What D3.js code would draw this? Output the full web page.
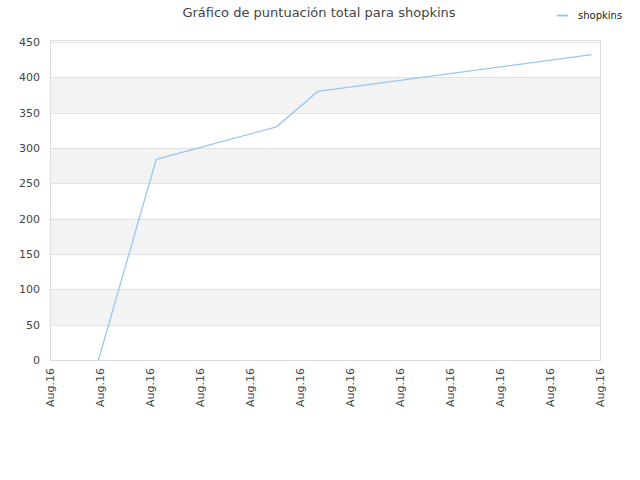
<!DOCTYPE html>
<html>
<head>
<meta charset="utf-8">
<script src="https://cdn.jsdelivr.net/npm/d3@7"></script>
<style>
  body { margin: 0; background: #fff; }
  text { font-family: "DejaVu Sans", sans-serif; }
</style>
</head>
<body>
<div id="wrapper"></div>
<script>
const title = "Gráfico de puntuación total para shopkins";
const seriesName = "shopkins";
// fechas de los puntos (agosto 2016)
const dates = ["2016-08-02T22:30", "2016-08-05T06:00", "2016-08-10T01:30", "2016-08-11T17:00", "2016-08-22T16:00"];
const scores = [0, 284, 330, 380, 432];
const yTicks = [0, 50, 100, 150, 200, 250, 300, 350, 400, 450];
const xStart = "2016-08-01T00:00";
const xEnd = "2016-08-23T00:00";

const parse = d3.timeParse("%Y-%m-%dT%H:%M");

const dimension = {
  width: 640,
  height: 480,
  margin: { top: 42, right: 40, bottom: 120, left: 50 },
};
dimension.boundedWidth = dimension.width - dimension.margin.left - dimension.margin.right;
dimension.boundedHeight = dimension.height - dimension.margin.top - dimension.margin.bottom;

const data = dates.map((d, i) => ({ date: parse(d), value: scores[i] }));

const x = d3.scaleTime()
  .domain([parse(xStart), parse(xEnd)])
  .range([0, dimension.boundedWidth]);

const y = d3.scaleLinear()
  .domain([0, 450])
  .range([dimension.boundedHeight, 0]);

const svg = d3.select("#wrapper")
  .append("svg")
  .attr("width", dimension.width)
  .attr("height", dimension.height);

const bounds = svg.append("g")
  .attr("transform", `translate(${dimension.margin.left},${dimension.margin.top})`);

// bandas alternas
const bands = yTicks.slice(0, -1).filter((d, i) => i % 2 === 1);
bounds.selectAll("rect.band")
  .data(bands)
  .enter()
  .append("rect")
  .attr("class", "band")
  .attr("x", 0)
  .attr("width", dimension.boundedWidth)
  .attr("y", d => y(d + 50))
  .attr("height", d => y(d) - y(d + 50))
  .attr("fill", "#f3f3f3");

// lineas de rejilla
bounds.selectAll("line.grid")
  .data(yTicks)
  .enter()
  .append("line")
  .attr("class", "grid")
  .attr("x1", 0)
  .attr("x2", dimension.boundedWidth)
  .attr("y1", d => Math.round(y(d)) + 0.5)
  .attr("y2", d => Math.round(y(d)) + 0.5)
  .attr("stroke", "#e2e2e2");

// marco
bounds.append("rect")
  .attr("x", 0.5)
  .attr("y", -1.5)
  .attr("width", dimension.boundedWidth)
  .attr("height", dimension.boundedHeight + 2)
  .attr("fill", "none")
  .attr("stroke", "#dddddd");

// eje y
const yAxis = bounds.append("g")
  .call(d3.axisLeft(y).tickValues(yTicks).tickSize(0).tickPadding(10));
yAxis.select(".domain").remove();
yAxis.selectAll("text")
  .attr("fill", "#444")
  .style("font-size", "11px");

// eje x
const xAxis = bounds.append("g")
  .attr("transform", `translate(0,${dimension.boundedHeight})`)
  .call(d3.axisBottom(x)
    .ticks(d3.timeDay.every(2))
    .tickFormat(d3.timeFormat("%b.%y"))
    .tickSize(0));
xAxis.select(".domain").remove();
xAxis.selectAll("text")
  .attr("fill", "#444")
  .style("font-size", "11px")
  .style("text-anchor", "end")
  .attr("dy", "0.35em")
  .attr("transform", "translate(0,8) rotate(-90)")
  .attr("x", 0)
  .attr("y", 0);

// linea de la serie
const line = d3.line()
  .x(d => x(d.date))
  .y(d => y(d.value));

bounds.append("path")
  .datum(data)
  .attr("d", line)
  .attr("fill", "none")
  .attr("stroke", "#99c6f2")
  .attr("stroke-width", 1.3);

// titulo
svg.append("text")
  .attr("x", 319)
  .attr("y", 17)
  .attr("text-anchor", "middle")
  .attr("fill", "#444")
  .style("font-size", "13px")
  .text(title);

// leyenda
const legend = svg.append("g").attr("transform", "translate(557,15)");
legend.append("line")
  .attr("x1", 0).attr("x2", 11)
  .attr("y1", 0.5).attr("y2", 0.5)
  .attr("stroke", "#99c6f2")
  .attr("stroke-width", 2);
legend.append("text")
  .attr("x", 21)
  .attr("y", 3.5)
  .attr("fill", "#222")
  .style("font-size", "10px")
  .text(seriesName);
</script>
</body>
</html>
